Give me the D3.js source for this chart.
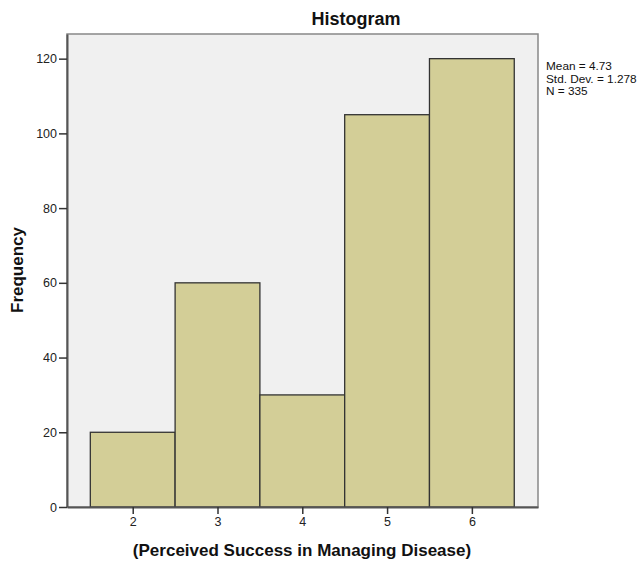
<!DOCTYPE html>
<html><head><meta charset="utf-8">
<script src="https://cdn.jsdelivr.net/npm/d3@7"></script>
<style>body{margin:0;background:#fff}text{font-family:Arial,"Liberation Sans",sans-serif}</style>
</head><body>
<svg id="c" width="644" height="561"></svg>
<script>
const binCenters = [2, 3, 4, 5, 6];
const frequencies = [20, 60, 30, 105, 120];
const yTicks = [0, 20, 40, 60, 80, 100, 120];
const xTicks = [2, 3, 4, 5, 6];
const statsLines = ["Mean = 4.73", "Std. Dev. = 1.278", "N = 335"];

const svg = d3.select("#c");
const L = 67, R = 538, T = 34, B = 507;
const x = d3.scaleLinear().domain([1.225, 6.78]).range([L, R]);
const y = d3.scaleLinear().domain([0, 126.6]).range([B, T]);

svg.append("rect").attr("x", L).attr("y", T).attr("width", R - L).attr("height", B - T)
  .attr("fill", "#f0f0f0").attr("stroke", "#888").attr("stroke-width", 1.5);

svg.append("g").selectAll("rect").data(binCenters).join("rect")
  .attr("x", d => x(d - 0.5)).attr("width", d => x(d + 0.5) - x(d - 0.5))
  .attr("y", (d, i) => y(frequencies[i])).attr("height", (d, i) => y(0) - y(frequencies[i]))
  .attr("fill", "#d3ce97").attr("stroke", "#333").attr("stroke-width", 1.3);

const ya = svg.append("g").attr("transform", `translate(${L},0)`)
  .call(d3.axisLeft(y).tickValues(yTicks).tickSize(8).tickSizeOuter(0).tickPadding(2).tickFormat(d3.format("d")));
ya.select(".domain").attr("stroke", "#555").attr("stroke-width", 2);
ya.selectAll(".tick line").attr("stroke", "#333").attr("stroke-width", 1.5);
ya.selectAll("text").attr("font-size", 12.5).attr("fill", "#222");

const xa = svg.append("g").attr("transform", `translate(0,${B})`)
  .call(d3.axisBottom(x).tickValues(xTicks).tickSize(7).tickSizeOuter(0).tickPadding(3).tickFormat(d3.format("d")));
xa.select(".domain").attr("stroke", "#555").attr("stroke-width", 2);
xa.selectAll(".tick line").attr("stroke", "#333").attr("stroke-width", 1.5);
xa.selectAll("text").attr("font-size", 12.5).attr("fill", "#222");

svg.append("text").attr("x", 356).attr("y", 25).attr("text-anchor", "middle")
  .attr("font-size", 18).attr("font-weight", "bold").attr("fill", "#111").text("Histogram");
svg.append("text").attr("x", 302).attr("y", 556).attr("text-anchor", "middle")
  .attr("font-size", 17).attr("font-weight", "bold").attr("fill", "#111").text("(Perceived Success in Managing Disease)");
svg.append("text").attr("transform", "translate(23,270) rotate(-90)").attr("text-anchor", "middle")
  .attr("font-size", 17).attr("font-weight", "bold").attr("fill", "#111").text("Frequency");

svg.append("g").selectAll("text").data(statsLines).join("text")
  .attr("x", 546).attr("y", (d, i) => 70 + i * 12.5)
  .attr("font-size", 11.8).attr("fill", "#111").text(d => d);
</script>
</body></html>
